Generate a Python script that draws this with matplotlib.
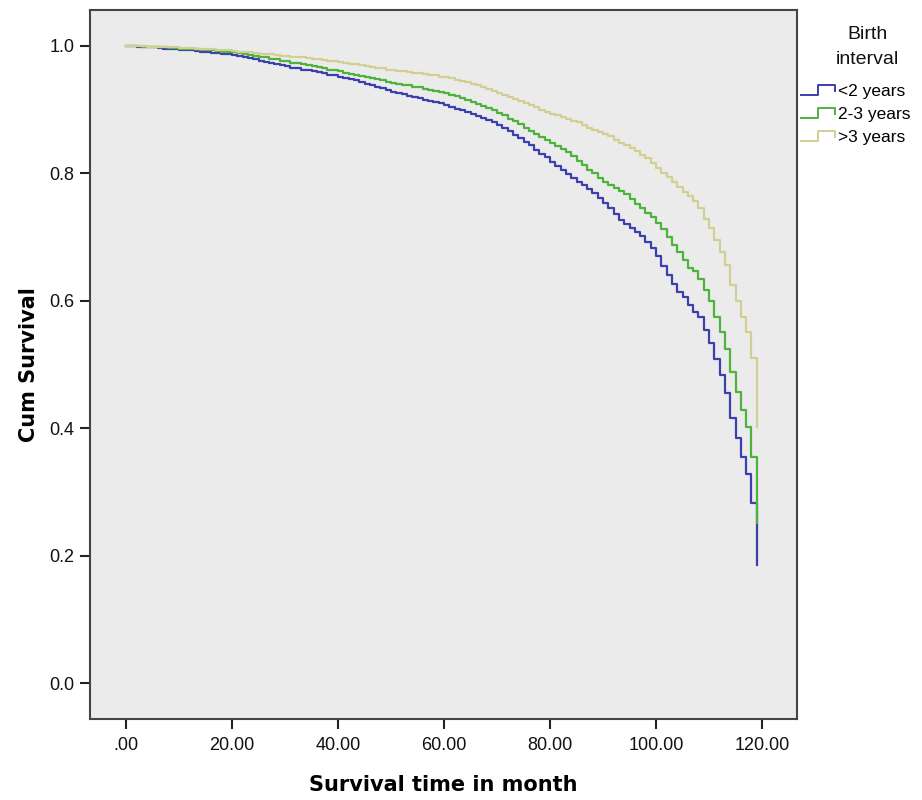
import matplotlib
matplotlib.use('Agg')
import matplotlib.pyplot as plt
from matplotlib.lines import Line2D
from matplotlib.legend_handler import HandlerBase

# survival estimates per month (0..119)
months = list(range(120))

surv_lt2 = [1.000,
    0.9995, 0.999, 0.9985, 0.998, 0.998, 0.997, 0.996, 0.995, 0.995, 0.994,
    0.993, 0.993, 0.992, 0.991, 0.990, 0.989, 0.989, 0.988, 0.987, 0.986,
    0.984, 0.982, 0.981, 0.979, 0.977, 0.975, 0.974, 0.972, 0.970, 0.968,
    0.966, 0.965, 0.963, 0.962, 0.960, 0.959, 0.957, 0.955, 0.954, 0.952,
    0.950, 0.948, 0.946, 0.944, 0.941, 0.939, 0.936, 0.934, 0.931, 0.928,
    0.926, 0.924, 0.922, 0.920, 0.918, 0.916, 0.914, 0.912, 0.910, 0.907,
    0.904, 0.901, 0.899, 0.896, 0.893, 0.890, 0.887, 0.884, 0.880, 0.876,
    0.871, 0.866, 0.861, 0.856, 0.850, 0.844, 0.837, 0.831, 0.825, 0.818,
    0.811, 0.805, 0.799, 0.793, 0.787, 0.781, 0.775, 0.769, 0.761, 0.754,
    0.745, 0.736, 0.727, 0.720, 0.715, 0.708, 0.701, 0.693, 0.683, 0.670,
    0.655, 0.640, 0.627, 0.614, 0.606, 0.593, 0.583, 0.575, 0.554, 0.533,
    0.508, 0.484, 0.455, 0.416, 0.384, 0.355, 0.328, 0.282, 0.185]

surv_2to3 = [1.000,
    1.000, 0.9995, 0.999, 0.999, 0.999, 0.998, 0.998, 0.997, 0.997, 0.996,
    0.996, 0.995, 0.995, 0.994, 0.993, 0.993, 0.992, 0.991, 0.991, 0.990,
    0.989, 0.987, 0.986, 0.985, 0.983, 0.982, 0.980, 0.979, 0.977, 0.976,
    0.974, 0.973, 0.971, 0.970, 0.968, 0.967, 0.965, 0.963, 0.962, 0.960,
    0.958, 0.956, 0.955, 0.953, 0.951, 0.949, 0.948, 0.946, 0.944, 0.942,
    0.941, 0.939, 0.938, 0.936, 0.935, 0.933, 0.931, 0.930, 0.928, 0.926,
    0.923, 0.921, 0.918, 0.915, 0.912, 0.909, 0.906, 0.903, 0.899, 0.895,
    0.891, 0.886, 0.882, 0.877, 0.872, 0.867, 0.862, 0.857, 0.852, 0.847,
    0.843, 0.839, 0.833, 0.827, 0.820, 0.813, 0.806, 0.800, 0.793, 0.787,
    0.782, 0.777, 0.772, 0.767, 0.760, 0.752, 0.745, 0.738, 0.731, 0.722,
    0.712, 0.700, 0.688, 0.676, 0.664, 0.652, 0.646, 0.635, 0.617, 0.599,
    0.575, 0.551, 0.525, 0.489, 0.457, 0.429, 0.402, 0.355, 0.251]

surv_gt3 = [1.000,
    1.000, 1.000, 0.9995, 0.999, 0.999, 0.999, 0.998, 0.998, 0.998, 0.997,
    0.997, 0.997, 0.996, 0.996, 0.995, 0.995, 0.994, 0.993, 0.993, 0.992,
    0.991, 0.990, 0.990, 0.989, 0.988, 0.987, 0.987, 0.986, 0.985, 0.984,
    0.983, 0.982, 0.982, 0.981, 0.980, 0.979, 0.978, 0.977, 0.976, 0.975,
    0.974, 0.972, 0.971, 0.970, 0.968, 0.967, 0.966, 0.965, 0.963, 0.962,
    0.961, 0.960, 0.959, 0.958, 0.957, 0.956, 0.955, 0.954, 0.952, 0.951,
    0.949, 0.947, 0.945, 0.943, 0.940, 0.938, 0.935, 0.932, 0.929, 0.926,
    0.923, 0.920, 0.917, 0.913, 0.910, 0.907, 0.904, 0.900, 0.897, 0.894,
    0.892, 0.889, 0.886, 0.883, 0.880, 0.876, 0.872, 0.868, 0.865, 0.862,
    0.858, 0.853, 0.848, 0.844, 0.840, 0.835, 0.829, 0.824, 0.816, 0.808,
    0.801, 0.794, 0.786, 0.779, 0.771, 0.764, 0.756, 0.745, 0.729, 0.714,
    0.695, 0.677, 0.656, 0.625, 0.599, 0.575, 0.551, 0.510, 0.402]

groups = ['<2 years', '2-3 years', '>3 years']
colors = ['#3c3fae', '#4cb43c', '#d2cf93']

xticks = [0, 20, 40, 60, 80, 100, 120]
xticklabels = ['.00', '20.00', '40.00', '60.00', '80.00', '100.00', '120.00']
yticks = [0.0, 0.2, 0.4, 0.6, 0.8, 1.0]
yticklabels = ['0.0', '0.2', '0.4', '0.6', '0.8', '1.0']


class StepHandler(HandlerBase):
    # little step glyph like the SPSS legend
    def create_artists(self, legend, orig_handle, xdescent, ydescent,
                       width, height, fontsize, trans):
        xs = [0.0, 0.5, 0.5, 1.0, 1.0]
        ys = [0.1, 0.1, 0.95, 0.95, 0.4]
        ln = Line2D([x * width - xdescent for x in xs],
                    [y * height - ydescent for y in ys],
                    color=orig_handle.get_color(), lw=1.4, transform=trans)
        return [ln]


plt.rcParams['font.family'] = ['Liberation Sans', 'DejaVu Sans']

fig = plt.figure(figsize=(9.22, 8.0), dpi=100)
ax = fig.add_axes([90 / 922, 1 - 719 / 800, 707 / 922, 709 / 800])
ax.set_facecolor('#ebebeb')

handles = []
for s, c, g in zip([surv_lt2, surv_2to3, surv_gt3], colors, groups):
    h, = ax.step(months, s, where='post', color=c, lw=1.6, label=g)
    handles.append(h)

ax.set_xlim(-6.8, 126.6)
ax.set_ylim(-0.0565, 1.0565)
ax.set_xticks(xticks)
ax.set_xticklabels(xticklabels)
ax.set_yticks(yticks)
ax.set_yticklabels(yticklabels)
ax.tick_params(axis='both', direction='out', length=7, width=1.5,
               color='#222222', labelsize=13, labelcolor='#111111')
ax.tick_params(axis='x', pad=6)
ax.tick_params(axis='y', pad=4)
for sp in ax.spines.values():
    sp.set_color('#444444')
    sp.set_linewidth(1.5)

ax.set_xlabel('Survival time in month', fontsize=15, fontweight='bold',
              family='DejaVu Sans', labelpad=15)
ax.set_ylabel('Cum Survival', fontsize=15, fontweight='bold',
              family='DejaVu Sans')
ax.yaxis.set_label_coords(-0.072, 0.5)

# legend title drawn on its own, centred like SPSS does
fig.text(867 / 922, 1 - 47 / 800, 'Birth\ninterval', ha='center', va='center',
         fontsize=14, linespacing=1.55, color='#111111')

leg = fig.legend(handles, groups, loc='upper left',
                 bbox_to_anchor=(801 / 922, 1 - 84 / 800),
                 frameon=False, fontsize=12.5,
                 handler_map={Line2D: StepHandler()},
                 handlelength=1.95, handletextpad=0.2, labelspacing=0.45,
                 borderaxespad=0, borderpad=0.0)

fig.savefig('out.png', dpi=100)
